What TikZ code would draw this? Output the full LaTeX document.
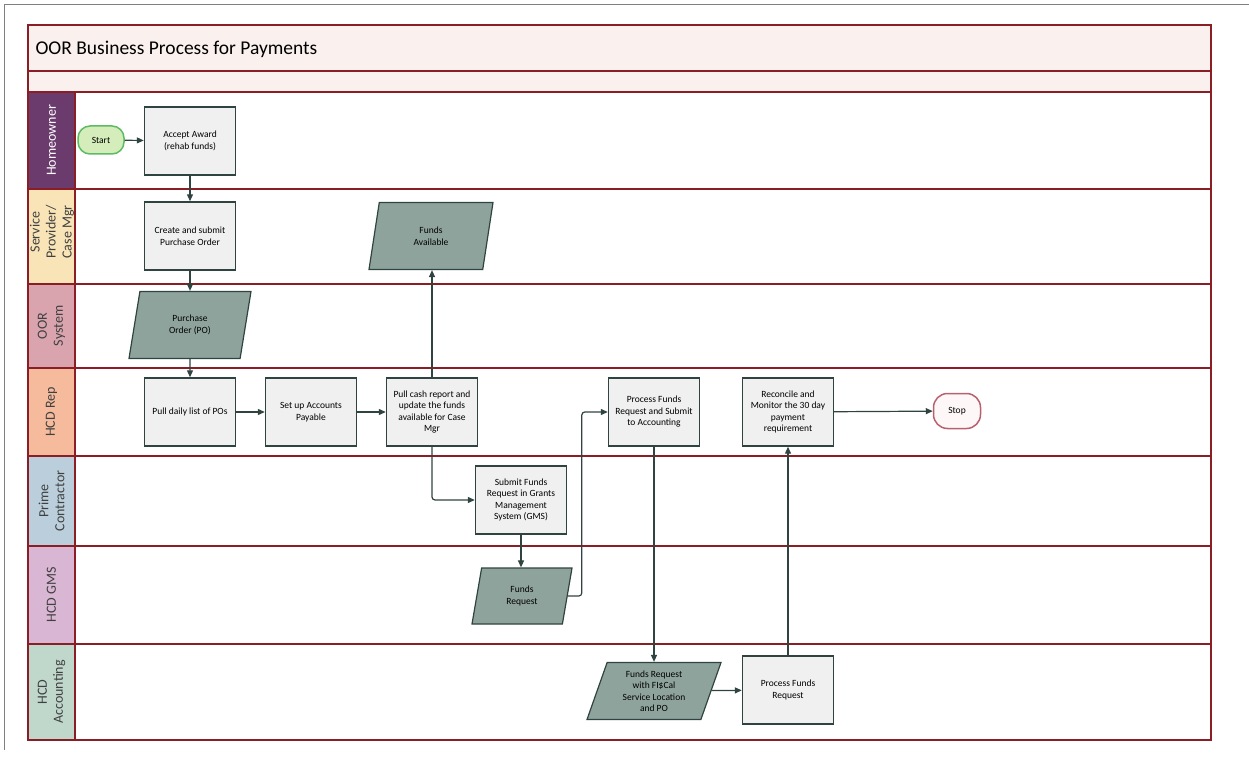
\documentclass[tikz,border=0pt]{standalone}
\usepackage{fontspec}
\setmainfont{Carlito}
\usepackage{tikz}
\usetikzlibrary{shapes.geometric,arrows.meta}

\definecolor{lanered}{HTML}{8B1E24}
\definecolor{boxline}{HTML}{2F4440}
\definecolor{boxfill}{HTML}{F0F0F0}
\definecolor{datafill}{HTML}{8FA39D}
\definecolor{titlefill}{HTML}{FAF0EE}
\definecolor{homec}{HTML}{6B3B6E}
\definecolor{servc}{HTML}{F8E4B6}
\definecolor{oorc}{HTML}{D9A4AE}
\definecolor{repc}{HTML}{F6BA9C}
\definecolor{primec}{HTML}{BACFDB}
\definecolor{gmsc}{HTML}{D9B6D3}
\definecolor{acctc}{HTML}{C0D7CC}
\definecolor{startfill}{HTML}{D4EDBA}
\definecolor{startline}{HTML}{5DBB63}
\definecolor{stopline}{HTML}{B8606E}
\definecolor{stopfill}{HTML}{FDF7F7}

\begin{document}
\begin{tikzpicture}[x=1pt,y=-1pt,
  procbox/.style={draw=boxline, fill=boxfill, line width=1.4pt, minimum width=91pt,
    minimum height=68pt, align=center, font=\fontsize{9.5}{11.5}\selectfont},
  databox/.style={trapezium, trapezium left angle=63, trapezium right angle=117,
    trapezium stretches body, draw=boxline, fill=datafill, line width=1.2pt,
    minimum width=122pt, minimum height=67pt, inner sep=1pt, align=center,
    font=\fontsize{9.5}{11.5}\selectfont},
  lanelabel/.style={rotate=90, align=center, font=\fontsize{14}{16}\selectfont},
  laneline/.style={draw=lanered, line width=1.2pt},
  flow/.style={draw=boxline, line width=1.2pt, -{Triangle[length=7pt,width=6pt]}}]

\useasboundingbox (0,0) rectangle (1249,759);
\draw[gray, line width=0.8pt] (4,750) -- (4,4) -- (1249,4);

% title bands
\fill[titlefill] (28,25) rectangle (1211,92);
\draw[laneline] (28,25) rectangle (1211,71);
\draw[laneline] (28,71) rectangle (1211,92);
\node[anchor=west, font=\fontsize{19.5}{22}\selectfont] (title) at (32,49) {OOR Business Process for Payments};

% lanes
\foreach \ya/\yb/\col in {92/189/homec, 189/284/servc, 284/368/oorc, 368/456/repc,
    456/546/primec, 546/644/gmsc, 644/740/acctc}{
  \fill[\col] (28,\ya) rectangle (75,\yb);
  \draw[laneline] (28,\ya) rectangle (1211,\yb);
  \draw[laneline] (75,\ya) -- (75,\yb);
}

\node[lanelabel, text=white] (homeowner) at (51.5,140.5) {Homeowner};
\node[lanelabel, text=black!75] (service) at (52,232) {Service\\Provider/\\Case Mgr};
\node[lanelabel, text=black!75] (oorsys) at (51.5,326) {OOR\\System};
\node[lanelabel, text=black!75] (hcdrep) at (51.5,412) {HCD Rep};
\node[lanelabel, text=black!75] (prime) at (51.5,501) {Prime\\Contractor};
\node[lanelabel, text=black!75] (hcdgms) at (51.5,595) {HCD GMS};
\node[lanelabel, text=black!75] (hcdacct) at (51.5,692) {HCD\\Accounting};

% process steps
\node[draw=startline, fill=startfill, line width=1.5pt, rounded corners=12pt,
  minimum width=46pt, minimum height=28pt, font=\fontsize{9.5}{11}\selectfont] (start) at (101,140) {Start};
\node[procbox] (accept) at (190,141) {Accept Award\\(rehab funds)};
\node[procbox] (createpo) at (190,236) {Create and submit\\Purchase Order};
\node[databox] (po) at (190,325) {Purchase\\Order (PO)};
\node[procbox] (pulldaily) at (190,412) {Pull daily list of POs};
\node[procbox] (setupap) at (311,412) {Set up Accounts\\Payable};
\node[procbox] (pullcash) at (432,412) {Pull cash report and\\update the funds\\available for Case\\Mgr};
\node[databox, minimum width=124pt] (fundsavail) at (431,236) {Funds\\Available};
\node[procbox] (submitgms) at (521,500) {Submit Funds\\Request in Grants\\Management\\System (GMS)};
\node[databox, trapezium left angle=66, trapezium right angle=114,
  minimum width=100pt, minimum height=56pt] (fundsreq) at (522,596) {Funds\\Request};
\node[procbox] (procsubmit) at (654,412) {Process Funds\\Request and Submit\\to Accounting};
\node[procbox] (reconcile) at (788,412) {Reconcile and\\Monitor the 30 day\\payment\\requirement};
\node[draw=stopline, fill=stopfill, line width=1.5pt, rounded corners=14pt,
  minimum width=47pt, minimum height=35pt, font=\fontsize{9.5}{11}\selectfont] (stop) at (957,411) {Stop};
\node[databox, trapezium left angle=65, trapezium right angle=115,
  minimum width=134pt, minimum height=57pt] (fiscal) at (654,691) {Funds Request\\with FI\$Cal\\Service Location\\and PO};
\node[procbox] (procfunds) at (788,690) {Process Funds\\Request};

% connectors
\draw[flow] (start) -- (accept);
\draw[flow] (accept) -- (createpo);
\draw[flow] (createpo) -- (po);
\draw[flow] (po) -- (pulldaily);
\draw[flow] (pulldaily) -- (setupap);
\draw[flow] (setupap) -- (pullcash);
\draw[flow] (pullcash.north) -- (pullcash.north |- fundsavail.south);
\draw[flow, rounded corners=3pt] (pullcash.south) |- (submitgms.west);
\draw[flow] (submitgms) -- (submitgms |- fundsreq.north);
\draw[flow, rounded corners=3pt] (fundsreq.east) -- ++(14,0) |- (procsubmit.west);
\draw[flow] (procsubmit) -- (procsubmit |- fiscal.north);
\draw[flow] (fiscal) -- (procfunds);
\draw[flow] (procfunds) -- (reconcile);
\draw[flow] (reconcile) -- (stop);
\end{tikzpicture}
\end{document}
